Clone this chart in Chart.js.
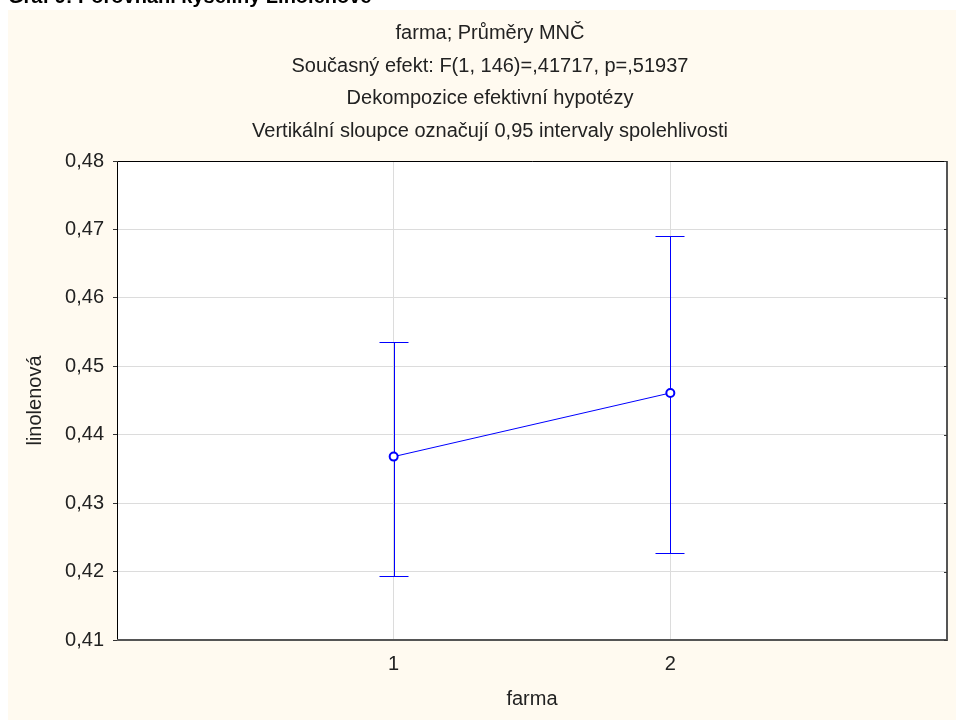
<!DOCTYPE html>
<html lang="cs">
<head>
<meta charset="utf-8">
<title>Graf 9: Porovnání kyseliny Linolenové</title>
<script src="https://cdn.jsdelivr.net/npm/chart.js@4.4.0/dist/chart.umd.min.js"></script>
<style>
    html, body { margin: 0; padding: 0; background: #fff; overflow: hidden; }
    #wrap { position: relative; width: 956px; height: 720px; }
    #caption {
        position: absolute; left: 8px; top: -14px; z-index: 2;
        font: bold 20px "Liberation Sans", Arial, sans-serif; line-height: 20px;
        color: #000; white-space: nowrap;
    }
    canvas { position: absolute; left: 0; top: 0; }
</style>
</head>
<body>
<div id="wrap">
    <div id="caption">Graf 9: Porovnání kyseliny Linolenové</div>
    <canvas id="lsmChart" width="956" height="720"></canvas>
</div>
<script>
// values
const farma = [1, 2];
const means = [0.4368, 0.4461];
const ciLow = [0.4194, 0.4227];
const ciHigh = [0.4535, 0.4691];
const xTicks = [1, 2];
const yTicks = [0.41, 0.42, 0.43, 0.44, 0.45, 0.46, 0.47, 0.48];
const titleLines = [
    "farma; Průměry MNČ",
    "Současný efekt: F(1, 146)=,41717, p=,51937",
    "Dekompozice efektivní hypotézy",
    "Vertikální sloupce označují 0,95 intervaly spolehlivosti",
];

const blue = "#0000ff";
const gridColor = "#dcdcdc";
const textColor = "#222";

Chart.defaults.font.family = '"Liberation Sans", Arial, sans-serif';

// cream page, white plot area, frame and the short inner ticks on the right
const framePlugin = {
    id: "framePlugin",
    afterLayout: (chart) => {
        // the title block in the original sits a bit right of the page centre
        chart.titleBlock.left = 33;
    },
    beforeDraw: (chart) => {
        const { ctx, chartArea: a } = chart;
        ctx.save();
        ctx.fillStyle = "#fffaf0";
        ctx.fillRect(8, 10, chart.width - 8, chart.height - 10);
        ctx.fillStyle = "#fff";
        ctx.fillRect(a.left, a.top, a.right - a.left, a.bottom - a.top);
        ctx.restore();
    },
    beforeDatasetsDraw: (chart) => {
        const { ctx, chartArea: a, scales } = chart;
        ctx.save();
        ctx.lineWidth = 1;
        ctx.strokeStyle = "#000";
        ctx.beginPath();
        ctx.moveTo(a.left + 0.5, a.bottom);
        ctx.lineTo(a.left + 0.5, a.top + 0.5);
        ctx.lineTo(a.right, a.top + 0.5);
        ctx.stroke();

        ctx.strokeStyle = "#555";
        ctx.lineWidth = 2;
        ctx.beginPath();
        ctx.moveTo(a.left, a.bottom);
        ctx.lineTo(a.right, a.bottom);
        ctx.lineTo(a.right, a.top);
        ctx.stroke();

        ctx.lineWidth = 1;
        ctx.strokeStyle = "#333";
        ctx.beginPath();
        scales.y.ticks.forEach((t) => {
            const py = Math.round(scales.y.getPixelForValue(t.value)) + 0.5;
            ctx.moveTo(a.right - 3, py);
            ctx.lineTo(a.right, py);
        });
        ctx.stroke();
        ctx.restore();
    },
};

// 0,95 confidence intervals as vertical bars with caps
const errorBarsPlugin = {
    id: "errorBarsPlugin",
    beforeDatasetsDraw: (chart) => {
        const { ctx, scales } = chart;
        ctx.save();
        ctx.strokeStyle = blue;
        ctx.lineWidth = 1;
        farma.forEach((f, i) => {
            const px = Math.round(scales.x.getPixelForValue(f)) + 0.5;
            const top = Math.round(scales.y.getPixelForValue(ciHigh[i])) + 0.5;
            const bottom = Math.round(scales.y.getPixelForValue(ciLow[i])) + 0.5;
            ctx.beginPath();
            ctx.moveTo(px, top);
            ctx.lineTo(px, bottom);
            ctx.moveTo(px - 15, top);
            ctx.lineTo(px + 14, top);
            ctx.moveTo(px - 15, bottom);
            ctx.lineTo(px + 14, bottom);
            ctx.stroke();
        });
        ctx.restore();
    },
};

const ctx = document.getElementById("lsmChart").getContext("2d");
const chart = new Chart(ctx, {
    type: "line",
    data: {
        datasets: [
            {
                label: "linolenová",
                data: farma.map((f, i) => ({ x: f, y: means[i] })),
                borderColor: blue,
                borderWidth: 1,
                pointRadius: 4,
                pointBorderWidth: 2,
                pointBorderColor: blue,
                pointBackgroundColor: "#fff",
                tension: 0,
            },
        ],
    },
    options: {
        responsive: false,
        animation: false,
        layout: {
            padding: { left: 0, right: 9, top: 0, bottom: 0 },
        },
        scales: {
            x: {
                type: "linear",
                min: 0,
                max: 3,
                afterBuildTicks: (scale) => {
                    scale.ticks = xTicks.map((v) => ({ value: v }));
                },
                afterFit: (scale) => {
                    scale.height = 80;
                },
                grid: { color: gridColor, drawTicks: false },
                border: { display: false },
                ticks: {
                    color: textColor,
                    font: { size: 20 },
                    padding: 12,
                    callback: (v) => String(v),
                },
                title: {
                    display: true,
                    text: "farma",
                    color: textColor,
                    font: { size: 20 },
                    padding: { top: 0, bottom: 9 },
                },
            },
            y: {
                min: 0.41,
                max: 0.48,
                afterBuildTicks: (scale) => {
                    scale.ticks = yTicks.map((v) => ({ value: v }));
                },
                afterFit: (scale) => {
                    scale.width = 117;
                },
                grid: { color: gridColor, tickLength: 4, tickColor: "#333" },
                border: { display: false },
                ticks: {
                    color: textColor,
                    font: { size: 20 },
                    padding: 9,
                    callback: (v) => v.toFixed(2).replace(".", ","),
                },
                title: {
                    display: true,
                    text: "linolenová",
                    color: textColor,
                    font: { size: 20 },
                    padding: { top: 23, bottom: 0 },
                },
            },
        },
        plugins: {
            legend: { display: false },
            tooltip: { enabled: false },
            title: {
                display: true,
                text: titleLines,
                color: textColor,
                font: { size: 20, weight: "normal", lineHeight: 1.62 },
                padding: { top: 17.6, bottom: 13.8 },
            },
        },
    },
    plugins: [framePlugin, errorBarsPlugin],
});
</script>
</body>
</html>
